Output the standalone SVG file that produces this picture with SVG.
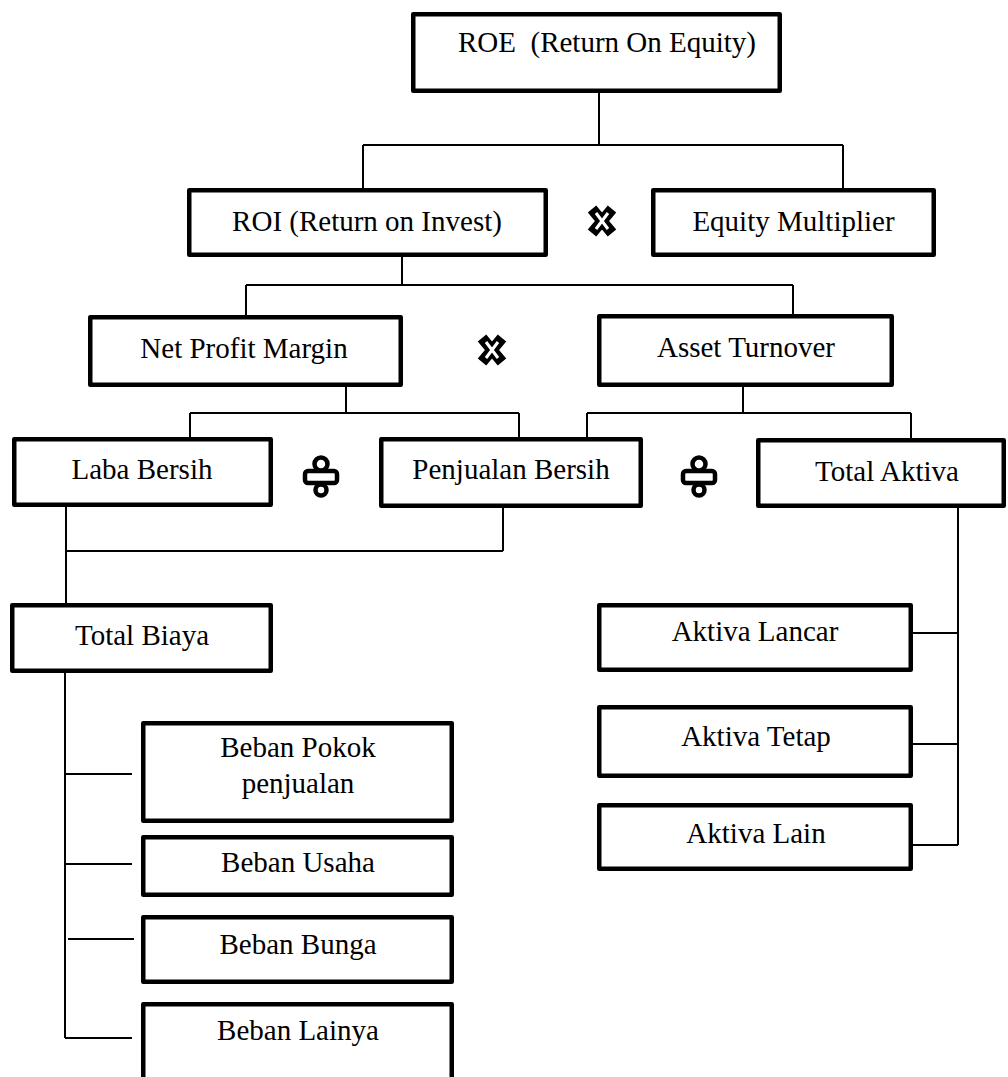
<svg xmlns="http://www.w3.org/2000/svg" width="1008" height="1077" viewBox="0 0 1008 1077">
<style>
.box{fill:#fff;stroke:#000;stroke-width:4.5;stroke-linejoin:round}
.lbl{font-family:"Liberation Serif","Times New Roman",serif;font-size:29px;fill:#000;text-anchor:middle}
.con{fill:none;stroke:#000;stroke-width:2}
.opk{stroke:#000;stroke-width:11;stroke-linecap:butt}
.opw{stroke:#fff;stroke-width:3}
.dv{fill:#fff;stroke:#000;stroke-width:4.5}
</style>
<rect width="1008" height="1077" fill="#fff"/>
<g id="connectors">
<path class="con" d="M599 93V145M363 145H843M363 145V188M843 145V188"/>
<path class="con" d="M402 257V285M246 285H793M246 285V315M793 285V314"/>
<path class="con" d="M346 387V413M190 413H519M190 413V437M519 413V437"/>
<path class="con" d="M743 387V413M587 413H911M587 413V437M911 413V438"/>
<path class="con" d="M66 507V603M503 508V551M66 551H503"/>
<path class="con" d="M65 673V1038M65 774H132M65 864H132M68 939H134M65 1038H132"/>
<path class="con" d="M958 508V845M913 633H958M913 744H958M913 845H958"/>
</g>
<g id="roe"><rect class="box" x="413.25" y="14.25" width="366.5" height="76.5"/><text class="lbl" x="607" y="52" xml:space="preserve">ROE  (Return On Equity)</text></g>
<g id="roi"><rect class="box" x="189.25" y="190.25" width="356.5" height="64.5"/><text class="lbl" x="367" y="231">ROI (Return on Invest)</text></g>
<g id="equity-multiplier"><rect class="box" x="653.25" y="190.25" width="280.5" height="64.5"/><text class="lbl" x="793.5" y="231">Equity Multiplier</text></g>
<g id="net-profit-margin"><rect class="box" x="90.25" y="317.25" width="310.5" height="67.5"/><text class="lbl" x="244" y="358">Net Profit Margin</text></g>
<g id="asset-turnover"><rect class="box" x="599.25" y="316.25" width="292.5" height="68.5"/><text class="lbl" x="746" y="357">Asset Turnover</text></g>
<g id="laba-bersih"><rect class="box" x="14.25" y="439.25" width="256.5" height="65.5"/><text class="lbl" x="142" y="479">Laba Bersih</text></g>
<g id="penjualan-bersih"><rect class="box" x="381.25" y="439.25" width="259.5" height="66.5"/><text class="lbl" x="511" y="479">Penjualan Bersih</text></g>
<g id="total-aktiva"><rect class="box" x="758.25" y="440.25" width="245.5" height="65.5"/><text class="lbl" x="887" y="481">Total Aktiva</text></g>
<g id="total-biaya"><rect class="box" x="12.25" y="605.25" width="258.5" height="65.5"/><text class="lbl" x="142" y="645">Total Biaya</text></g>
<g id="beban-pokok"><rect class="box" x="143.25" y="723.25" width="308.5" height="97.5"/><text class="lbl" x="298" y="757">Beban Pokok</text><text class="lbl" x="298" y="793">penjualan</text></g>
<g id="beban-usaha"><rect class="box" x="143.25" y="837.25" width="308.5" height="57.5"/><text class="lbl" x="298" y="872">Beban Usaha</text></g>
<g id="beban-bunga"><rect class="box" x="143.25" y="917.25" width="308.5" height="64.5"/><text class="lbl" x="298" y="954">Beban Bunga</text></g>
<g id="beban-lainya"><rect class="box" x="143.25" y="1004.25" width="308.5" height="100"/><text class="lbl" x="298" y="1040">Beban Lainya</text></g>
<g id="aktiva-lancar"><rect class="box" x="599.25" y="605.25" width="311.5" height="64.5"/><text class="lbl" x="755" y="641">Aktiva Lancar</text></g>
<g id="aktiva-tetap"><rect class="box" x="599.25" y="707.25" width="311.5" height="68.5"/><text class="lbl" x="756" y="746">Aktiva Tetap</text></g>
<g id="aktiva-lain"><rect class="box" x="599.25" y="805.25" width="311.5" height="63.5"/><text class="lbl" x="756" y="843">Aktiva Lain</text></g>
<g id="times-1" transform="translate(602 221)"><path class="opk" d="M-10 -12L10 12M10 -12L-10 12"/><path class="opw" d="M-6 -8L6 8M6 -8L-6 8"/></g>
<g id="times-2" transform="translate(492 350)"><path class="opk" d="M-10 -12L10 12M10 -12L-10 12"/><path class="opw" d="M-6 -8L6 8M6 -8L-6 8"/></g>
<g id="divide-1" transform="translate(321 470)"><rect class="dv" x="-16" y="1" width="32" height="12" rx="3"/><circle class="dv" cx="0" cy="-6" r="6.5"/><circle class="dv" cx="0" cy="20" r="5.5"/></g>
<g id="divide-2" transform="translate(699 470)"><rect class="dv" x="-16" y="1" width="32" height="12" rx="3"/><circle class="dv" cx="0" cy="-6" r="6.5"/><circle class="dv" cx="0" cy="20" r="5.5"/></g>
</svg>
